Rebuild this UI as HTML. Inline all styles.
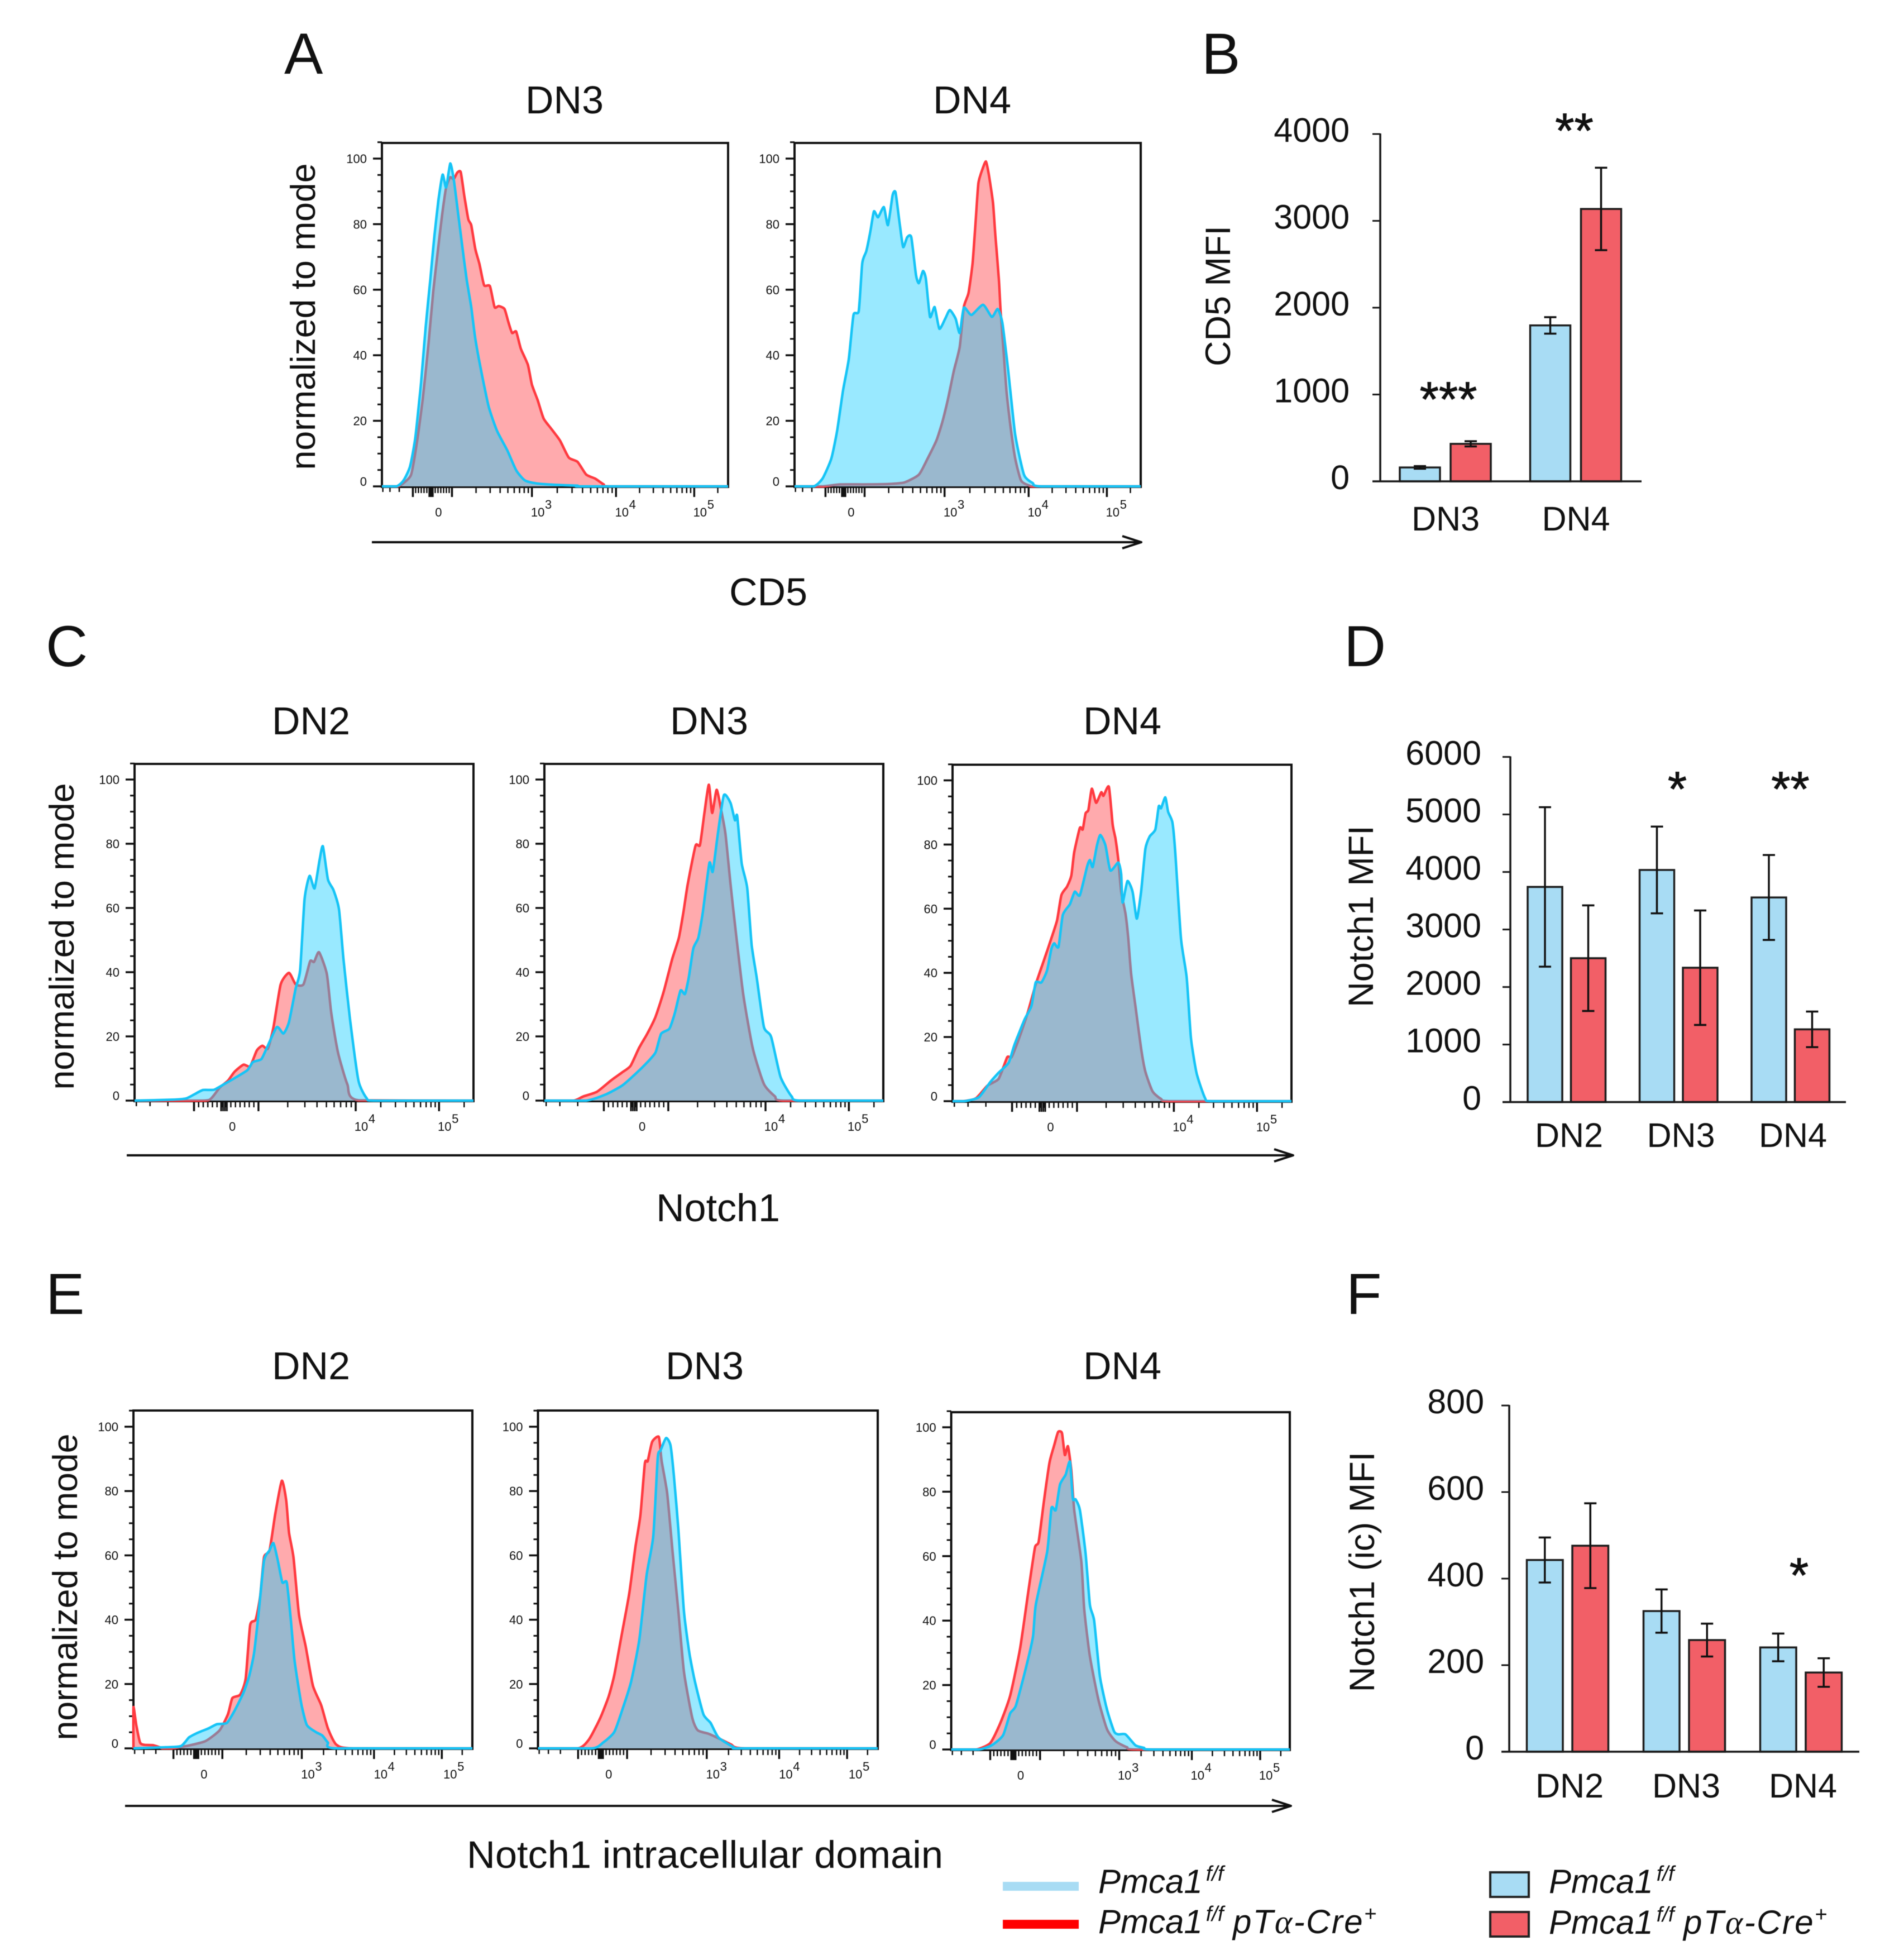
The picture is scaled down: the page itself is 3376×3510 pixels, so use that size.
<!DOCTYPE html>
<html lang="en">
<head>
<meta charset="utf-8">
<title>CD5 and Notch1 flow cytometry panels</title>
<style>
html,body{margin:0;padding:0;background:#fff;}
svg{display:block;font-family:"Liberation Sans",Arial,sans-serif;fill:#111;filter:blur(0.8px);}
.letter{font-size:104px;}
.title{font-size:70px;text-anchor:middle;}
.axt{font-size:62.5px;}
.leg{font-size:60px;font-style:italic;}
.sup{font-size:38px;}
.wide{letter-spacing:2.4px;}
</style>
</head>
<body>
<svg id="fig" xmlns="http://www.w3.org/2000/svg" width="3376" height="3510" viewBox="0 0 3376 3510">
<rect width="3376" height="3510" fill="#fff"/>
<text class="letter" x="509" y="132">A</text>
<text class="letter" x="2152" y="132">B</text>
<text class="letter" x="82" y="1193">C</text>
<text class="letter" x="2407" y="1193">D</text>
<text class="letter" x="82" y="2353">E</text>
<text class="letter" x="2411" y="2353">F</text>

<text class="title" x="1011" y="203">DN3</text>
<text class="title" x="1741" y="203">DN4</text>
<text class="title" x="557" y="1315">DN2</text>
<text class="title" x="1270" y="1315">DN3</text>
<text class="title" x="2010" y="1315">DN4</text>
<text class="title" x="557" y="2470">DN2</text>
<text class="title" x="1262" y="2470">DN3</text>
<text class="title" x="2010" y="2470">DN4</text>

<text class="axt" text-anchor="middle" transform="translate(564,567) rotate(-90)">normalized to mode</text>
<text class="axt" text-anchor="middle" transform="translate(132,1677) rotate(-90)">normalized to mode</text>
<text class="axt" text-anchor="middle" transform="translate(138,2842) rotate(-90)">normalized to mode</text>

<text class="title" x="1376" y="1084">CD5</text>
<text class="title" x="1286" y="2187">Notch1</text>
<text font-size="69" x="836" y="3345" textLength="853" lengthAdjust="spacingAndGlyphs">Notch1 intracellular domain</text>

<g fill="none" stroke="#111" stroke-width="4" stroke-linejoin="round">
<line x1="666" y1="971" x2="2042" y2="971"/><polyline points="2010,960 2044,971 2010,982"/></g>
<g fill="none" stroke="#111" stroke-width="4" stroke-linejoin="round">
<line x1="227" y1="2069" x2="2314" y2="2069"/><polyline points="2282,2058 2316,2069 2282,2080"/></g>
<g fill="none" stroke="#111" stroke-width="4" stroke-linejoin="round">
<line x1="224" y1="3234" x2="2310" y2="3234"/><polyline points="2278,3223 2312,3234 2278,3245"/></g>

<text font-size="63" text-anchor="middle" transform="translate(2203,530) rotate(-90)">CD5 MFI</text>
<text font-size="63" text-anchor="middle" transform="translate(2459,1641) rotate(-90)">Notch1 MFI</text>
<text font-size="63" text-anchor="middle" transform="translate(2461,2815) rotate(-90)">Notch1 (ic) MFI</text>

<g>
<rect x="1796" y="3370" width="136" height="16" fill="#a8dcf4"/>
<rect x="1796" y="3438" width="136" height="16" fill="#ff0000"/>
<text class="leg" x="1967" y="3390">Pmca1<tspan class="sup" dx="6" dy="-22">f/f</tspan></text>
<text class="leg" x="1967" y="3462">Pmca1<tspan class="sup" dx="6" dy="-22">f/f</tspan><tspan class="wide" x="2208" dy="22">pT</tspan><tspan class="wide" font-family="'Liberation Serif',serif">α</tspan><tspan class="wide">-Cre</tspan><tspan class="sup" dy="-22">+</tspan></text>
</g>
<g>
<rect x="2669" y="3353" width="69" height="44" fill="#a8dcf4" stroke="#222" stroke-width="4"/>
<rect x="2669" y="3424" width="69" height="44" fill="#f25f67" stroke="#222" stroke-width="4"/>
<text class="leg" x="2774" y="3390">Pmca1<tspan class="sup" dx="6" dy="-22">f/f</tspan></text>
<text class="leg" x="2774" y="3463">Pmca1<tspan class="sup" dx="6" dy="-22">f/f</tspan><tspan class="wide" x="3015" dy="22">pT</tspan><tspan class="wide" font-family="'Liberation Serif',serif">α</tspan><tspan class="wide">-Cre</tspan><tspan class="sup" dy="-22">+</tspan></text>
</g>
</svg>

<script>
/* ---------- histogram data: channel on the biexponential axis, % of mode ---------- */
const aDn3RedCh=[27,37,50,60,70,80,88,95,103,110,117,123,129,135,141,148,153,160,167,175,185,193,200,210,217,223,230,238,250,257,267,277,290,305,320,335,350,365,380,390];
const aDn3RedVal=[0,1,3.6,13.4,26.8,43.8,59.6,70.6,82.7,91.2,94.3,93.7,95.7,95.9,88.8,81.5,79.7,72.4,67.9,61.4,61.1,54.7,55,54.1,49.9,46.8,47.2,42,37.1,31,26.2,20.7,17.6,14,8.8,7.5,3.6,2.4,.6,0];
const aDn3BlueCh=[25,37,48,57,67,75,83,90,97,104,110,117,123,130,137,145,153,160,170,183,197,215,230,245,265,295,335,345];
const aDn3BlueVal=[0,1.8,6,14.6,31.6,48.7,63.3,76.6,87.6,95.1,91.2,98.5,93.7,84,74.2,63.3,54.7,45,35.3,24.3,17,10.9,4.9,1.8,.9,.5,.2,0];

const aDn4RedCh=[48,78,118,158,188,213,228,243,253,263,273,283,290,298,305,310,315,323,328,333,340,344,350,353,358,363,370,378,388,403,418];
const aDn4RedVal=[0,.6,.6,.7,1.2,3.6,8.5,14,19.5,26.8,35.3,42.6,54.7,59,68.1,80.3,92.5,97.3,99.1,94.9,86.4,76.6,63.3,53.5,41.4,29.2,18.2,8.5,1.8,.2,0];
const aDn4BlueCh=[33,48,63,73,83,93,101,110,116,123,130,136,143,153,160,168,173,180,186,193,200,208,213,220,225,232,240,248,258,266,276,283,290,303,323,338,348,356,366,378,393,408,423];
const aDn4BlueVal=[0,2.4,8.5,17,29.2,38.9,52.3,53.5,68.1,71.8,77.9,83.9,82.1,85.2,79.7,88.8,89.7,80.3,73,76,76,64.5,62,65.7,63.3,51.7,54.7,48.1,51.1,53.8,51.1,46.8,54.5,52.3,55.4,51.7,54.1,49.9,35.3,15.8,3.6,1,0];

const cDn2RedCh=[123,138,153,168,180,196,208,220,230,240,250,263,278,290,304,316,323,332,346,354,366,383,403];
const cDn2RedVal=[0,.7,4,6.2,9,11.2,10.7,15.6,17.1,16.2,22.9,36.2,39.8,36.2,36.2,43.4,43.2,46.2,39.5,27.3,15.1,5.1,.1];
const cDn2BlueCh=[68,93,108,123,143,163,183,203,213,228,238,256,268,278,290,298,306,315,324,333,339,348,358,368,376,388,403,418,433];
const cDn2BlueVal=[.3,.7,2,3.3,3.4,5.3,7.3,9.5,12,12.9,16.4,22.9,20.9,24.5,35,40.6,62.8,70,66.1,75,79.2,68.9,65.6,59.5,44,25,6.2,.7,0];

const cDn3RedCh=[52,70,95,120,140,155,170,185,200,215,230,242,250,258,272,280,288,296,302,310,318,326,335,345,358,375,395,415,430];
const cDn3RedVal=[0,1.3,2.8,6.3,8.8,10.8,16.3,20.8,26.1,34.1,44.1,50.7,58.5,67.4,79.4,79.6,89.6,98.4,89.6,96.8,90.7,82.9,67.4,51.8,33,16.3,5.2,1.3,0];
const cDn3BlueCh=[75,110,140,165,185,200,210,225,235,245,253,260,268,277,285,297,303,312,323,335,343,347,355,365,373,382,395,408,425,445,460];
const cDn3BlueVal=[0,1.9,4.7,8.5,11.9,15,20.8,22.4,27.4,34.3,33.2,38.5,47.4,50.7,58.5,74,71.3,82.9,95.1,92.7,87.3,88.7,74,66.3,48.5,38.5,23,19.9,7.4,1.3,0];

const cDn4RedCh=[37,82,122,162,192,207,232,262,292,322,347,367,382,402,417,427,447,457,467,477,489,504,522,530,549,562,572,582,592,607,617,627,642,662,677,702,732,767];
const cDn4RedVal=[0,.9,4.8,7,13.7,13.7,19.2,27,36.4,44.2,50.8,56.4,64.2,66.9,70.3,77.5,85.2,84.7,89.7,90.8,97.4,93,96.3,95.2,98,86.3,81.9,75.2,65.3,58.6,50.8,39.7,29.7,16.4,9.2,3.1,.7,0];
const cDn4BlueCh=[42,92,132,162,197,217,252,277,292,312,332,347,357,372,387,412,429,447,472,482,492,507,519,537,554,582,592,597,614,632,647,662,677,692,712,724,732,747,757,772,782,802,822,837,857,887,912];
const cDn4BlueVal=[0,1.2,5.9,8.9,12,17.5,25.3,29.7,37,37,40.8,47.5,49.2,48.1,58,61.4,65.3,64.2,73,75.2,73,79.7,83,79.7,71.9,74.4,70.8,61.9,68.6,65.3,56.9,65.3,78.6,82.5,84.7,91.9,91.3,94.7,90.2,86.9,77.5,50.8,38.6,19.8,8.7,.9,0];

const eDn2RedCh=[0,5,12,20,35,48,52,70,100,130,155,170,178,192,202,210,220,228,235,245,255,267,275,280,288,298,310,323,338,350,365,395];
const eDn2RedVal=[12.8,7.3,1.8,1.1,1,.3,0,0,.9,2.3,5.6,10.6,15.6,16.7,21.7,38.3,40,47.2,59.4,61.6,72.6,83.2,77.1,67.1,59.4,41.6,31.7,19.5,13.4,6.2,1.2,0];
const eDn2BlueCh=[50,85,100,115,135,150,168,182,198,208,217,225,235,245,252,260,268,276,283,290,302,312,328,340,350,365];
const eDn2BlueVal=[.3,.7,3.4,4.8,6.2,7.5,7.9,11.7,17.3,22.3,29.5,41.6,58.3,61.6,63.8,58.3,51.6,51.6,40.5,27.2,14,7.3,5.1,4,1.8,0];

const eDn3RedCh=[72,92,112,127,137,150,164,175,184,192,197,205,217,222,232,242,252,262,277,287,307,327,347,372];
const eDn3RedVal=[0,2.9,9.5,16.2,22.8,35,48.3,62.7,72.6,88.7,89.3,95.3,96.8,89.3,79.3,60.5,42.7,23.9,9.5,5.6,4.5,2.9,1.2,0];
const eDn3BlueCh=[97,117,137,152,167,182,195,207,215,220,230,238,244,252,262,272,282,297,310,324,352,364];
const eDn3BlueVal=[0,1.8,5.1,12.3,20.6,33.9,53.8,66,90.4,92.6,96.5,94.2,84.8,68.2,42.7,29.5,20.6,10.6,7.9,3.4,.3,0];

const eDn4RedCh=[87,137,172,207,242,272,294,307,325,345,362,375,389,399,410,422,432,457,467,487,517,547,577,617,657];
const eDn4RedVal=[0,2,8.1,16.7,31.4,49.8,62.6,64.5,76.7,89,94.5,98.5,98.2,91.4,94.1,86.5,74.3,58.3,43.6,28.9,15.4,6.3,2.6,.7,0];
const eDn4BlueCh=[97,142,182,207,227,262,287,297,337,352,367,382,402,417,427,437,452,472,487,502,522,547,572,587,612,647,677,707];
const eDn4BlueVal=[0,1.3,4.4,11.2,13.6,25.2,35,44.9,61.4,74.9,74.3,82.2,85.3,89.3,77.9,77.6,74.3,60.8,44.9,40,22.8,12.4,5.6,4.7,4.7,1.3,.5,0];

/* x-axis tick channels and labels */
const aMajorTicks=[53,120,257,401,535];
const aTickLabels=[["0",97],["3",267],["4",411],["5",545]];
const cNarrowMajorTicks=[107,223,398,548];
const cNarrowTickLabels=[["0",176],["4",408],["5",558]];
const cWideMajorTicks=[209,437,777,1069];
const cWideTickLabels=[["0",344],["4",797],["5",1090]];
const eNarrowMajorTicks=[72,160,303,433,555];
const eNarrowTickLabels=[["0",127],["3",314],["4",445],["5",570]];
const eWideMajorTicks=[137,312,590,845,1085];
const eWideTickLabels=[["0",244],["3",609],["4",865],["5",1105]];
const histYTicks=[0,20,40,60,80,100];

/* bar chart data */
const bCategories=["DN3","DN4"];
const bControl=[160,1796];
const bControlErr=[15,95];
const bKnockout=[432,3137];
const bKnockoutErr=[30,475];
const bTicks=[0,1000,2000,3000,4000];
const bStars=["***","**"];

const dCategories=["DN2","DN3","DN4"];
const dControl=[3740,4035,3557];
const dControlErr=[1386,754,738];
const dKnockout=[2501,2335,1264];
const dKnockoutErr=[918,995,309];
const dTicks=[0,1000,2000,3000,4000,5000,6000];
const dStars=["","*","**"];

const fCategories=["DN2","DN3","DN4"];
const fControl=[443,325,241];
const fControlErr=[52,50,32];
const fKnockout=[476,258,183];
const fKnockoutErr=[98,38,33];
const fTicks=[0,200,400,600,800];
const fStars=["","","*"];

/* ---------- helpers ---------- */
const NS="http://www.w3.org/2000/svg";
const fig=document.getElementById("fig");
function node(parent,tag,name,attrs){
  const el=document.createElementNS(NS,tag);
  
  
  for(const k in attrs){el.setAttribute(k,attrs[k]);}
  parent.appendChild(el);
  return el;
}
function label(parent,name,x,y,size,anchor,str){
  const el=node(parent,"text",name,{x:x,y:y,"font-size":size,"text-anchor":anchor});
  el.textContent=str;
  return el;
}
let clipCount=0;
function histogram(p){
  const g=node(fig,"g","histogram-"+p.id,{});
  const xScale=c=>p.x0+(c/p.domain)*(p.x1-p.x0);
  const yScale=v=>p.y0-(v/100)*(p.y0-p.y100);
  /* frame */
  node(g,"rect","plot-frame-"+p.id,{x:p.x0,y:p.top,width:p.x1-p.x0,height:p.y0+1-p.top,fill:"#fff",stroke:"#111","stroke-width":4});
  /* y ticks */
  for(let v=0;v<=105;v+=5){
    const major=v%20===0;
    const len=major?16:8;
    node(g,"line","y-tick-"+p.id,{x1:p.x0-len,x2:p.x0,y1:yScale(v),y2:yScale(v),stroke:"#111","stroke-width":major?3.5:3});
  }
  histYTicks.forEach(v=>{
    const dy=v===0?-1:8;
    label(g,"y-tick-label-"+p.id,p.x0-27,yScale(v)+dy,22,"end",String(v));
  });
  /* x ticks */
  const M=p.majors;
  const tb=p.y0+1;
  const tick=(c,len,w,nm)=>{
    if(c<0||c>p.domain)return;
    node(g,"line",nm,{x1:xScale(c),x2:xScale(c),y1:tb,y2:tb+len,stroke:"#111","stroke-width":w});
  };
  M.forEach(c=>tick(c,18,3.5,"x-major-tick-"+p.id));
  [0.44,0.74,0.97].forEach(f=>tick(M[0]*(1-f),9,2.5,"x-minor-tick-"+p.id));
  const span=M[1]-M[0];
  for(let i=1;i<14;i++){
    tick(M[0]+span*i/14,11,2.5,"x-minor-tick-"+p.id);
  }
  [0.42,0.45,0.48,0.51].forEach(f=>tick(M[0]+span*f,18,3,"x-minor-tick-"+p.id));
  for(let j=1;j<M.length;j++){
    const a=M[j];
    const step=j<M.length-1?M[j+1]-a:M[j]-M[j-1];
    const mults=j<M.length-1?[2,3,4,5,6,7,8,9]:[2,3,5];
    mults.forEach(m=>tick(a+step*Math.log10(m),11,2.5,"x-minor-tick-"+p.id));
  }
  p.labels.forEach(t=>{
    if(t[0]==="0"){
      label(g,"x-tick-label-"+p.id,xScale(t[1]),p.y0+54,22,"middle","0");
    }else{
      label(g,"x-tick-label-"+p.id,xScale(t[1]),p.y0+54,22,"middle","10");
      label(g,"x-tick-exponent-"+p.id,xScale(t[1])+19,p.y0+40,22,"middle",t[0]);
    }
  });
  /* curves: gently smoothed through the data points */
  const pathOf=(ch,val)=>{
    const pts=[[xScale(0),yScale(0)]];
    ch.forEach((c,i)=>{pts.push([xScale(c),yScale(val[i])]);});
    pts.push([xScale(p.domain),yScale(0)]);
    let d="M"+pts[0][0].toFixed(1)+" "+pts[0][1].toFixed(1);
    const cl=y=>Math.min(y,p.y0);
    for(let i=0;i<pts.length-1;i++){
      const a=pts[Math.max(i-1,0)],b=pts[i],e=pts[i+1],f=pts[Math.min(i+2,pts.length-1)];
      const c1x=b[0]+(e[0]-a[0])/10,c1y=cl(b[1]+(e[1]-a[1])/10);
      const c2x=e[0]-(f[0]-b[0])/10,c2y=cl(e[1]-(f[1]-b[1])/10);
      d+=" C"+c1x.toFixed(1)+" "+c1y.toFixed(1)+" "+c2x.toFixed(1)+" "+c2y.toFixed(1)+" "+e[0].toFixed(1)+" "+e[1].toFixed(1);
    }
    return d;
  };
  const redD=pathOf(p.redCh,p.redVal);
  const blueD=pathOf(p.blueCh,p.blueVal);
  clipCount++;
  const cid="clip-blue-"+clipCount;
  const cp=node(g,"clipPath","overlap-clip-"+p.id,{id:cid});
  node(cp,"path","overlap-clip-path-"+p.id,{d:blueD+" Z"});
  node(g,"path","fill-knockout-"+p.id,{d:redD+" Z",fill:"#ffaaad",stroke:"none"});
  node(g,"path","line-knockout-"+p.id,{d:redD,fill:"none",stroke:"#ff3a40","stroke-width":4.5,"stroke-linejoin":"round"});
  node(g,"path","fill-control-"+p.id,{d:blueD+" Z",fill:"#99e9ff",stroke:"none"});
  node(g,"path","fill-overlap-"+p.id,{d:redD+" Z",fill:"#9ab8ce",stroke:"none","clip-path":"url(#"+cid+")"});
  node(g,"path","line-knockout-overlap-"+p.id,{d:redD,fill:"none",stroke:"#9a7c95","stroke-width":4.5,"stroke-linejoin":"round","clip-path":"url(#"+cid+")"});
  node(g,"path","line-control-"+p.id,{d:blueD,fill:"none",stroke:"#16c4f6","stroke-width":4.5,"stroke-linejoin":"round"});
}
function barChart(c){
  const g=node(fig,"g","bar-chart-"+c.id,{});
  const yScale=v=>c.y0-(v/c.max)*(c.y0-c.yTop);
  c.ticks.forEach(v=>{
    node(g,"line","bar-y-tick-"+c.id,{x1:c.axisX-14,x2:c.axisX,y1:yScale(v),y2:yScale(v),stroke:"#1a1a1a","stroke-width":3});
    label(g,"bar-y-tick-label-"+c.id,c.labelX,yScale(v)+14,c.tickSize,"end",String(v));
  });
  const bar=(x,v,err,fill,nm)=>{
    node(g,"rect",nm,{x:x,y:yScale(v),width:c.barW,height:c.y0-yScale(v),fill:fill,stroke:"#1e1e1e","stroke-width":3.5});
    const mid=x+c.barW/2;
    const hi=yScale(v+err);
    const lo=yScale(v-err);
    node(g,"line","error-stem-"+c.id,{x1:mid,x2:mid,y1:hi,y2:lo,stroke:"#111","stroke-width":3.5});
    node(g,"line","error-cap-upper-"+c.id,{x1:mid-11,x2:mid+11,y1:hi,y2:hi,stroke:"#111","stroke-width":3.5});
    node(g,"line","error-cap-lower-"+c.id,{x1:mid-11,x2:mid+11,y1:lo,y2:lo,stroke:"#111","stroke-width":3.5});
  };
  c.categories.forEach((cat,i)=>{
    const x=c.firstX+i*c.groupStep;
    bar(x,c.control[i],c.controlErr[i],"#a8dcf4","bar-control-"+cat);
    bar(x+c.barStep,c.knockout[i],c.knockoutErr[i],"#f25f67","bar-knockout-"+cat);
    label(g,"bar-x-label-"+cat,x+c.labelDx,c.catBaseline,61,"middle",cat);
    if(c.stars[i]){
      const s=label(g,"significance-"+cat,x+c.starDx[i],c.starBaseline[i],88,"middle",c.stars[i]);
      s.setAttribute("stroke","#111");
      s.setAttribute("stroke-width","1");
    }
  });
  node(g,"line","bar-y-axis-"+c.id,{x1:c.axisX,x2:c.axisX,y1:c.yTop-1,y2:c.y0+1,stroke:"#1a1a1a","stroke-width":3.5});
  node(g,"line","bar-x-axis-"+c.id,{x1:c.axisX-14,x2:c.endX,y1:c.y0,y2:c.y0,stroke:"#1a1a1a","stroke-width":3.5});
}

/* ---------- flow histograms ---------- */
const yA={top:256,y0:871,y100:284};
histogram({id:"a-dn3",x0:684,x1:1304,domain:593,...yA,majors:aMajorTicks,labels:aTickLabels,redCh:aDn3RedCh,redVal:aDn3RedVal,blueCh:aDn3BlueCh,blueVal:aDn3BlueVal});
histogram({id:"a-dn4",x0:1423,x1:2043,domain:593,...yA,majors:aMajorTicks,labels:aTickLabels,redCh:aDn4RedCh,redVal:aDn4RedVal,blueCh:aDn4BlueCh,blueVal:aDn4BlueVal});
const yC={top:1368,y0:1971,y100:1396};
histogram({id:"c-dn2",x0:241,x1:848,domain:610,...yC,majors:cNarrowMajorTicks,labels:cNarrowTickLabels,redCh:cDn2RedCh,redVal:cDn2RedVal,blueCh:cDn2BlueCh,blueVal:cDn2BlueVal});
histogram({id:"c-dn3",x0:975,x1:1582,domain:610,...yC,majors:cNarrowMajorTicks,labels:cNarrowTickLabels,redCh:cDn3RedCh,redVal:cDn3RedVal,blueCh:cDn3BlueCh,blueVal:cDn3BlueVal});
histogram({id:"c-dn4",x0:1706,x1:2313,domain:1190,top:1369.5,y0:1972,y100:1397.5,majors:cWideMajorTicks,labels:cWideTickLabels,redCh:cDn4RedCh,redVal:cDn4RedVal,blueCh:cDn4BlueCh,blueVal:cDn4BlueVal});
const yE={top:2526,y0:3131,y100:2555};
histogram({id:"e-dn2",x0:239,x1:846,domain:610,...yE,majors:eNarrowMajorTicks,labels:eNarrowTickLabels,redCh:eDn2RedCh,redVal:eDn2RedVal,blueCh:eDn2BlueCh,blueVal:eDn2BlueVal});
histogram({id:"e-dn3",x0:963.5,x1:1572,domain:610,...yE,majors:eNarrowMajorTicks,labels:eNarrowTickLabels,redCh:eDn3RedCh,redVal:eDn3RedVal,blueCh:eDn3BlueCh,blueVal:eDn3BlueVal});
histogram({id:"e-dn4",x0:1703.6,x1:2310,domain:1189,top:2529,y0:3133,y100:2556,majors:eWideMajorTicks,labels:eWideTickLabels,redCh:eDn4RedCh,redVal:eDn4RedVal,blueCh:eDn4BlueCh,blueVal:eDn4BlueVal});

/* ---------- bar charts ---------- */
barChart({id:"cd5",categories:bCategories,control:bControl,controlErr:bControlErr,knockout:bKnockout,knockoutErr:bKnockoutErr,stars:bStars,ticks:bTicks,max:4000,
  axisX:2472,endX:2940,y0:862,yTop:240,labelX:2417,tickSize:61,firstX:2507,groupStep:233.5,barW:72,barStep:91,labelDx:82,catBaseline:950,starDx:[87,79],starBaseline:[745,264]});
barChart({id:"notch1",categories:dCategories,control:dControl,controlErr:dControlErr,knockout:dKnockout,knockoutErr:dKnockoutErr,stars:dStars,ticks:dTicks,max:6000,
  axisX:2705,endX:3306,y0:1973.6,yTop:1355.5,labelX:2653,tickSize:61,firstX:2736,groupStep:200.5,barW:62,barStep:77.5,labelDx:74,catBaseline:2054,starDx:[0,67.5,69.5],starBaseline:[0,1443,1443]});
barChart({id:"notch1-ic",categories:fCategories,control:fControl,controlErr:fControlErr,knockout:fKnockout,knockoutErr:fKnockoutErr,stars:fStars,ticks:fTicks,max:800,
  axisX:2703,endX:3330,y0:3137,yTop:2517,labelX:2658,tickSize:61,firstX:2734.5,groupStep:209,barW:64.5,barStep:81.5,labelDx:76.5,catBaseline:3219,starDx:[0,0,69.5],starBaseline:[0,0,2851]});
</script>
</body>
</html>
